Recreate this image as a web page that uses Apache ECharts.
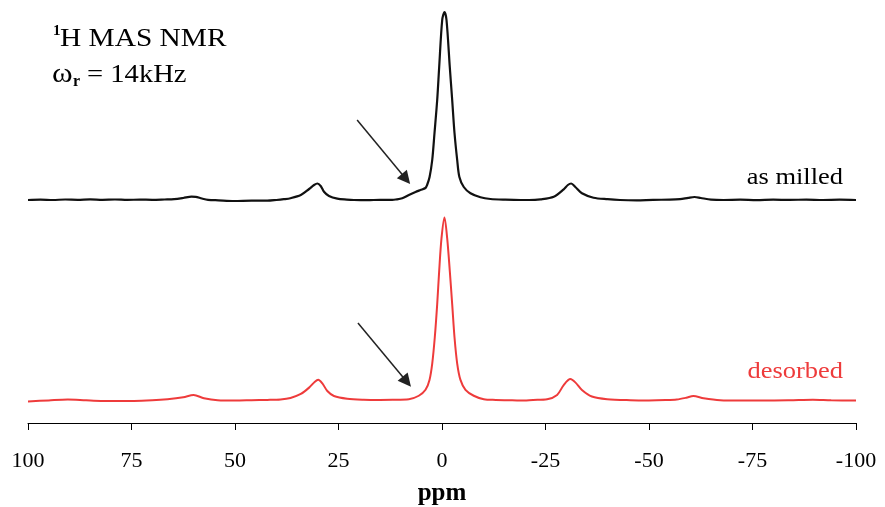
<!DOCTYPE html>
<html>
<head>
<meta charset="utf-8">
<script src="https://cdn.jsdelivr.net/npm/echarts@6/dist/echarts.min.js"></script>
<style>
html,body{margin:0;padding:0;background:#fff;}
#c{width:885px;height:507px;}
</style>
</head>
<body>
<div id="c"></div>
<script>
// x-axis ticks (ppm)
const ppmTicks = [100, 75, 50, 25, 0, -25, -50, -75, -100];

// "as milled" spectrum (black): chemical shift (ppm) and intensity (a.u.)
const milledPpm = [100, 97, 94, 91, 88, 85, 82, 79, 76, 73, 70, 67, 64.7, 62.5, 60.5, 59.5, 58, 56.5, 54, 50.2, 46, 42.2, 40, 38.2, 36.6, 34.1, 32.1, 30.9, 30.1, 29.3, 28.5, 27.3, 25.3, 23, 21.3, 18, 15, 12, 11.2, 9.6, 8.0, 6.4, 5.2, 4.0, 3.6, 3.0, 2.36, 1.81, 1.16, 0.68, -0.05, -0.6, -1.09, -1.88, -2.46, -3.02, -3.67, -4.2, -5.26, -6.88, -9.29, -11.7, -15.3, -19, -21, -23.8, -27, -29.4, -30.4, -31.2, -32.2, -33.8, -36.6, -40, -43, -47, -51, -55, -57.5, -59.5, -61, -62.5, -65, -68, -72, -76, -80, -84, -88, -92, -96, -100];
const milledInt = [0, 0.4, 0, 0.5, 0.2, 0.6, 0.2, 0.5, 0.1, 0.4, 0.2, 0.5, 0.8, 2, 3.4, 3.2, 1.5, 0.2, -0.3, -1, -0.6, -0.7, 0, 0.8, 1.8, 5, 11, 15, 16.5, 14, 8.3, 4, 1.3, 0.4, 0, -0.2, 0.2, 0.2, 0.5, 1.7, 5, 8, 10, 12, 15, 23, 40, 67, 100, 133, 180, 188, 180, 133, 100, 67, 40, 23, 13, 6.7, 2.7, 1, 0.3, 0, 0, 0.7, 3.3, 10.7, 15, 16.5, 13, 6.7, 2.3, 0.8, 0, -0.3, 0.2, 0.3, 0.8, 2.2, 3, 2, 0.4, 0, 0.3, -0.2, 0.3, 0.1, 0.4, 0, 0.3, 0];

// "desorbed" spectrum (red)
const desorbedPpm = [100, 95, 90.4, 86, 82.4, 78, 74.4, 70, 66.3, 62.5, 60, 57.5, 54.2, 50, 46, 42.2, 39, 36.6, 34.1, 32.1, 30.7, 29.9, 28.9, 27.7, 26.1, 22.9, 18.9, 15, 12, 8.0, 5.6, 3.98, 3.02, 2.36, 1.74, 1.16, 0.68, 0.12, -0.6, -1.25, -1.88, -2.46, -3.02, -3.67, -4.46, -5.67, -7.67, -10.1, -13, -16, -18.9, -22, -25.4, -27.8, -29.4, -31, -32.2, -33.8, -36.2, -39.9, -45.5, -50, -54, -56.7, -59, -60.7, -63.2, -67.2, -72, -78, -84, -89.6, -94, -100];
const desorbedInt = [-0.8, 0.3, 1.2, 0.4, -0.2, -0.2, -0.2, 0.4, 1.5, 3.5, 5.8, 2.5, 0.5, 0.2, 0.5, 0.8, 1.3, 2.8, 6.8, 13.2, 19.2, 21.2, 17.5, 9.8, 4.8, 2, 1, 0.8, 0.9, 1.5, 5, 11, 21, 37.5, 64, 97.5, 131, 164, 185, 164, 131, 97.5, 64, 37.5, 21, 11, 5, 1.5, 0.8, 0.5, 0.2, 0.8, 1.5, 5.8, 15.8, 21.8, 18.5, 10.8, 4.2, 1.5, 0.5, 0.3, 0.6, 1.2, 3, 4.8, 2.5, 0.5, 0.2, 0.2, 0.5, 1, 0.4, 0.2];

// arrows pointing at the shoulder (ppm, intensity) start -> end
const arrowMilled = [[20.5, 80], [8.7, 21]];
const arrowDesorbed = [[20.3, 78.5], [8.5, 19.2]];

const pairs = (xs, ys) => xs.map((x, i) => [x, ys[i]]);

const SERIF = '"Liberation Serif", "Times New Roman", serif';
const RED = '#ee3b3b';

const chart = echarts.init(document.getElementById('c'), null, {renderer: 'canvas'});

const xBase = {
  type: 'value', min: -100, max: 100, interval: 25, inverse: true,
  splitLine: {show: false}
};

const arrowMark = (pts) => ({
  silent: true, symbol: ['none', 'triangle'], symbolSize: 13,
  label: {show: false},
  emphasis: {disabled: true},
  lineStyle: {color: '#222', width: 1.5, type: 'solid'},
  data: [[{coord: pts[0]}, {coord: pts[1]}]]
});

chart.setOption({
  animation: false,
  backgroundColor: '#fff',
  grid: [
    {left: 28, right: 29, top: 0, height: 205},
    {left: 28, right: 29, top: 205, height: 220}
  ],
  xAxis: [
    Object.assign({}, xBase, {gridIndex: 0, show: false}),
    Object.assign({}, xBase, {
      gridIndex: 1,
      axisLine: {show: true, onZero: false, lineStyle: {color: '#000', width: 1}},
      axisTick: {show: true, inside: false, length: 7, lineStyle: {color: '#000', width: 1}},
      axisLabel: {
        show: true, margin: 27, color: '#000', fontSize: 22, fontFamily: SERIF,
        formatter: v => ppmTicks.includes(v) ? String(v) : ''
      },
      name: 'ppm', nameLocation: 'middle', nameGap: 58,
      nameTextStyle: {color: '#000', fontSize: 25, fontWeight: 'bold', fontFamily: SERIF}
    })
  ],
  yAxis: [
    {type: 'value', gridIndex: 0, min: -5, max: 200, show: false, splitLine: {show: false}},
    {type: 'value', gridIndex: 1, min: -22.5, max: 197.5, show: false, splitLine: {show: false}}
  ],
  series: [
    {
      name: 'as milled', type: 'line', xAxisIndex: 0, yAxisIndex: 0,
      data: pairs(milledPpm, milledInt),
      showSymbol: false, smooth: 0.3, clip: false,
      lineStyle: {color: '#111', width: 2.2},
      markLine: arrowMark(arrowMilled)
    },
    {
      name: 'desorbed', type: 'line', xAxisIndex: 1, yAxisIndex: 1,
      data: pairs(desorbedPpm, desorbedInt),
      showSymbol: false, smooth: 0.3, clip: false,
      lineStyle: {color: RED, width: 2},
      markLine: arrowMark(arrowDesorbed)
    }
  ],
  graphic: [
    {type: 'text', x: 53, y: 31, style: {text: '1', font: 'bold 15px ' + SERIF, fill: '#000', textAlign: 'left', textVerticalAlign: 'middle'}},
    {type: 'text', x: 60, y: 39, scaleX: 1.13, style: {text: 'H MAS NMR', font: '26px ' + SERIF, fill: '#000', textAlign: 'left', textVerticalAlign: 'middle'}},
    {type: 'text', x: 52, y: 75, scaleX: 1.12, style: {text: 'ω', font: '28px ' + SERIF, fill: '#000', textAlign: 'left', textVerticalAlign: 'middle'}},
    {type: 'text', x: 73, y: 82, style: {text: 'r', font: 'bold 16px ' + SERIF, fill: '#000', textAlign: 'left', textVerticalAlign: 'middle'}},
    {type: 'text', x: 87, y: 75, scaleX: 1.1, style: {text: '= 14kHz', font: '26px ' + SERIF, fill: '#000', textAlign: 'left', textVerticalAlign: 'middle'}},
    {type: 'text', x: 843, y: 178, scaleX: 1.15, style: {text: 'as milled', font: '23px ' + SERIF, fill: '#000', textAlign: 'right', textVerticalAlign: 'middle'}},
    {type: 'text', x: 843, y: 372, scaleX: 1.15, style: {text: 'desorbed', font: '23px ' + SERIF, fill: RED, textAlign: 'right', textVerticalAlign: 'middle'}}
  ]
});
</script>
</body>
</html>
